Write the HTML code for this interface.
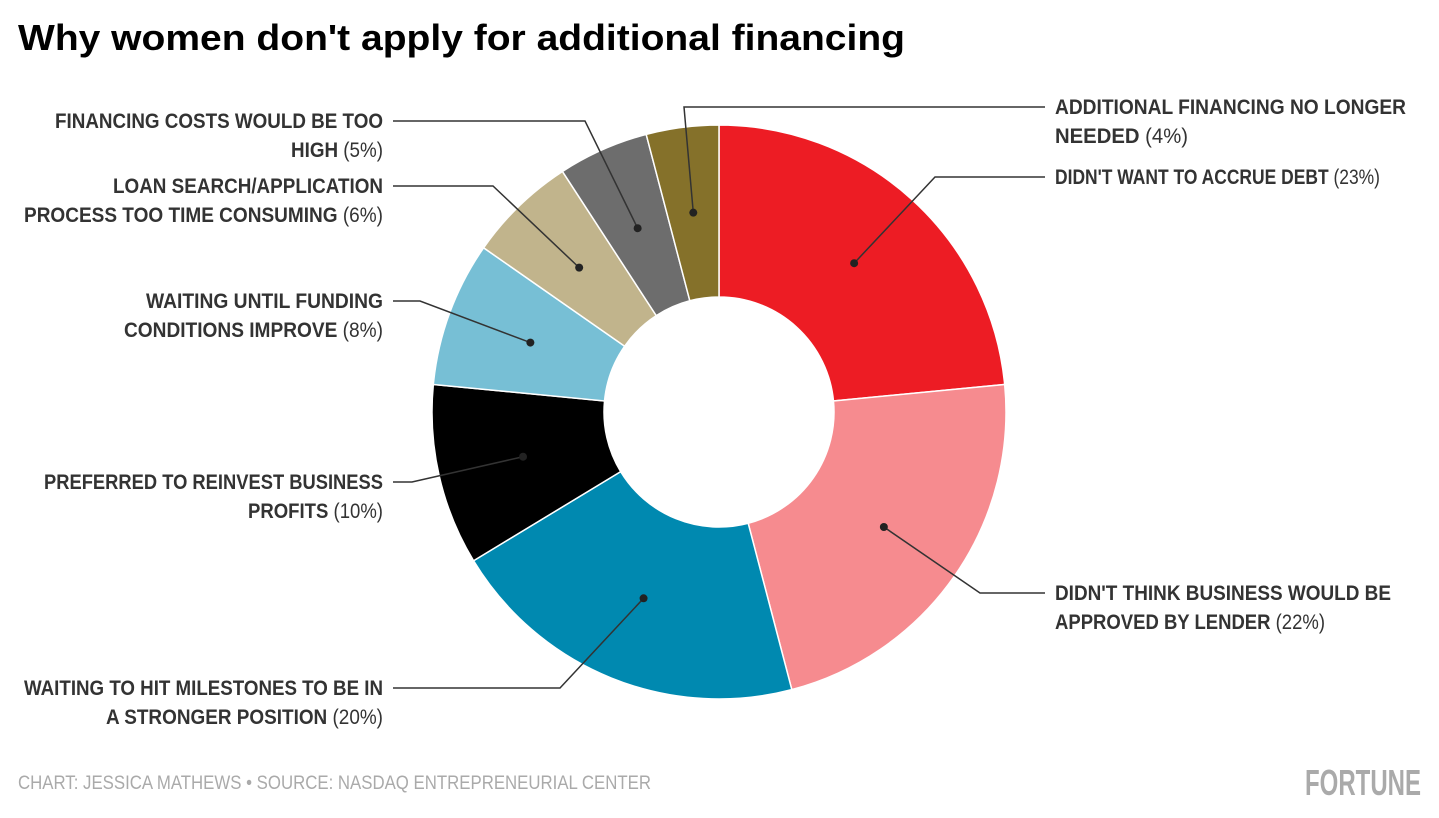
<!DOCTYPE html>
<html><head><meta charset="utf-8"><style>
html,body{margin:0;padding:0;background:#fff;}
svg{display:block;}
text{font-family:"Liberation Sans Narrow","Liberation Sans",sans-serif;}
.lb{font-size:21px;font-weight:bold;fill:#333;}
.lb tspan.n{font-weight:normal;}
</style></head><body>
<svg id="chart" width="1439" height="818" viewBox="0 0 1439 818">
<text x="18" y="50" font-size="36" font-weight="bold" fill="#000" textLength="887" lengthAdjust="spacingAndGlyphs" style="font-family:'Liberation Sans',sans-serif">Why women don't apply for additional financing</text>
<g id="slices"></g>
<g id="labels"></g>
<text x="18" y="789" font-size="19" fill="#aaa" textLength="633" lengthAdjust="spacingAndGlyphs">CHART: JESSICA MATHEWS • SOURCE: NASDAQ ENTREPRENEURIAL CENTER</text>
<text x="1305" y="795" font-size="36" font-weight="bold" fill="#aaa" textLength="116" lengthAdjust="spacingAndGlyphs">FORTUNE</text>
</svg>
<script>
const categories = ["DIDN'T WANT TO ACCRUE DEBT","DIDN'T THINK BUSINESS WOULD BE APPROVED BY LENDER","WAITING TO HIT MILESTONES TO BE IN A STRONGER POSITION","PREFERRED TO REINVEST BUSINESS PROFITS","WAITING UNTIL FUNDING CONDITIONS IMPROVE","LOAN SEARCH/APPLICATION PROCESS TOO TIME CONSUMING","FINANCING COSTS WOULD BE TOO HIGH","ADDITIONAL FINANCING NO LONGER NEEDED"];
const values = [23,22,20,10,8,6,5,4];
const colors = ["#ed1c24","#f68b8f","#0089b0","#000000","#77bfd5","#c1b48c","#6d6d6d","#85712a"];
const labelLines = [
 [["DIDN'T WANT TO ACCRUE DEBT ","(23%)"]],
 [["DIDN'T THINK BUSINESS WOULD BE",""],["APPROVED BY LENDER ","(22%)"]],
 [["WAITING TO HIT MILESTONES TO BE IN",""],["A STRONGER POSITION ","(20%)"]],
 [["PREFERRED TO REINVEST BUSINESS",""],["PROFITS ","(10%)"]],
 [["WAITING UNTIL FUNDING",""],["CONDITIONS IMPROVE ","(8%)"]],
 [["LOAN SEARCH/APPLICATION",""],["PROCESS TOO TIME CONSUMING ","(6%)"]],
 [["FINANCING COSTS WOULD BE TOO",""],["HIGH ","(5%)"]],
 [["ADDITIONAL FINANCING NO LONGER",""],["NEEDED ","(4%)"]]
];
// layout (not data): label anchor x, first baseline, line widths, elbow x
const layout = [
 {side:"r",y:184,w:[325],ex:935},
 {side:"r",y:600,w:[336,270],ex:980},
 {side:"l",y:695,w:[359,277],ex:560},
 {side:"l",y:489,w:[339,135],ex:412},
 {side:"l",y:308,w:[237,259],ex:420},
 {side:"l",y:193,w:[270,359],ex:493},
 {side:"l",y:128,w:[328,92],ex:585},
 {side:"r",y:114,w:[351,133],ex:684}
];
const cx=719, cy=412, R=287, r0=115, rDot=201;
const NS="http://www.w3.org/2000/svg";
const total = values.reduce((a,b)=>a+b,0);
function pt(a,rad){return [cx+rad*Math.sin(a), cy-rad*Math.cos(a)];}
const gS=document.getElementById('slices'), gL=document.getElementById('labels');
let acc=0;
values.forEach((v,i)=>{
  const a0=acc/total*2*Math.PI, a1=(acc+v)/total*2*Math.PI; acc+=v;
  const large=(a1-a0)>Math.PI?1:0;
  const p0=pt(a0,R),p1=pt(a1,R),q1=pt(a1,r0),q0=pt(a0,r0);
  const path=document.createElementNS(NS,'path');
  path.setAttribute('d',`M${p0[0]},${p0[1]}A${R},${R} 0 ${large} 1 ${p1[0]},${p1[1]}L${q1[0]},${q1[1]}A${r0},${r0} 0 ${large} 0 ${q0[0]},${q0[1]}Z`);
  path.setAttribute('fill',colors[i]);
  path.setAttribute('stroke','#fff');
  path.setAttribute('stroke-width','1.5');
  
  
  gS.appendChild(path);
  const am=(a0+a1)/2, d=pt(am,rDot), L=layout[i];
  const lineY=L.y-7;
  const sx = L.side==="l"?393:1045;
  const pl=document.createElementNS(NS,'polyline');
  pl.setAttribute('points',`${sx},${lineY} ${L.ex},${lineY} ${d[0]},${d[1]}`);
  pl.setAttribute('fill','none');pl.setAttribute('stroke','#333');pl.setAttribute('stroke-width','1.5');
  
  
  gL.appendChild(pl);
  const c=document.createElementNS(NS,'circle');
  c.setAttribute('cx',d[0]);c.setAttribute('cy',d[1]);c.setAttribute('r','4');c.setAttribute('fill','#222');
  
  
  gL.appendChild(c);
  labelLines[i].forEach((ln,k)=>{
    const t=document.createElementNS(NS,'text');
    t.setAttribute('class','lb');
    t.setAttribute('x', L.side==="l"?383:1055);
    t.setAttribute('y', L.y+k*29);
    t.setAttribute('text-anchor', L.side==="l"?"end":"start");
    t.setAttribute('textLength', L.w[k]);
    t.setAttribute('lengthAdjust','spacingAndGlyphs');
    
    
    const s1=document.createElementNS(NS,'tspan'); s1.textContent=ln[0]; t.appendChild(s1);
    if(ln[1]){const s2=document.createElementNS(NS,'tspan'); s2.setAttribute('class','n'); s2.textContent=ln[1]; t.appendChild(s2);}
    gL.appendChild(t);
  });
});
</script>
</body></html>
